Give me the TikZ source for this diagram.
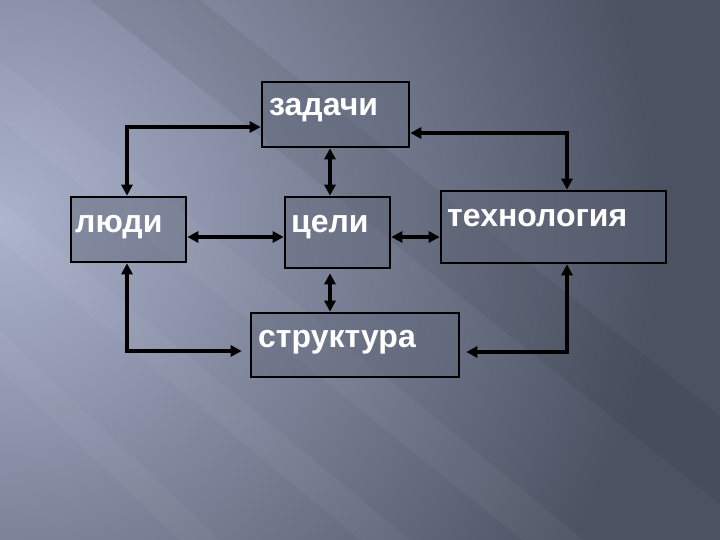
\documentclass[tikz,border=0pt]{standalone}
\usepackage{fontspec}
\setmainfont{Liberation Sans}
\usetikzlibrary{arrows.meta}
\definecolor{bgdark}{HTML}{4B5262}
\definecolor{bglight}{HTML}{ABB2CC}
\definecolor{boxfill}{HTML}{5E6577}
\tikzset{
  box/.style={draw=black, line width=2.6pt, fill=boxfill, fill opacity=0.45, inner sep=0pt, rectangle},
  lbl/.style={text=white, font=\fontsize{32}{35}\selectfont\bfseries, inner sep=0pt},
  conn/.style={draw=black, line width=3.6pt,
    {Triangle[length=11pt,width=11pt]}-{Triangle[length=11pt,width=11pt]}},
}
\begin{document}
\begin{tikzpicture}[x=1pt,y=-1pt]
% background
\useasboundingbox (0,0) rectangle (720,540);
\fill[bgdark] (0,0) rectangle (720,540);
\begin{scope}
\clip (0,0) rectangle (720,540);
\shade[inner color=bglight, outer color=bgdark] (0,220) circle (660);
\fill[black, opacity=0.06] (90,0) -- (200,0) -- (900,560) -- (790,560) -- cycle;
\fill[white, opacity=0.04] (0,60) -- (0,120) -- (560,570) -- (620,570) -- cycle;
\fill[white, opacity=0.04] (0,200) -- (0,240) -- (360,540) -- (410,540) -- cycle;
\fill[white, opacity=0.035] (0,330) -- (0,370) -- (180,540) -- (220,540) -- cycle;
\end{scope}
% boxes
\node[box, minimum width=147pt, minimum height=65pt] (zad) at (335.5,114.5) {};
\node[box, minimum width=115pt, minimum height=65pt] (ludi) at (128.5,229.5) {};
\node[box, minimum width=105pt, minimum height=71pt] (celi) at (337.5,232.5) {};
\node[box, minimum width=225pt, minimum height=72pt] (tech) at (553.5,227) {};
\node[box, minimum width=208pt, minimum height=64pt] (str) at (355,345) {};
% labels
\node[lbl, anchor=base west] (tzad) at (269,116) {задачи};
\node[lbl, anchor=base west] (tludi) at (75,233) {люди};
\node[lbl, anchor=base west] (tceli) at (291,233) {цели};
\node[lbl, anchor=base west] (ttech) at (447,226) {технология};
\node[lbl, anchor=base west] (tstr) at (258,347) {структура};
% helper coordinates
\coordinate (cl) at (127,127);
\coordinate (cr) at (567,133);
\coordinate (cc) at (330,237);
\coordinate (bl) at (127,351);
\coordinate (br) at (567,352);
% connectors
\draw[conn] (ludi.north -| cl) |- (zad.west |- cl);
\draw[conn] (zad.east |- cr) -| (tech.north -| cr);
\draw[conn] (zad.south -| cc) -- (celi.north -| cc);
\draw[conn] (ludi.east |- cc) -- (celi.west |- cc);
\draw[conn] (celi.east |- cc) -- (tech.west |- cc);
\draw[conn] ([yshift=-4pt]celi.south -| cc) -- (str.north -| cc);
\draw[conn] (ludi.south -| bl) |- ([xshift=-8pt]str.west |- bl);
\draw[conn] (tech.south -| br) |- ([xshift=6pt]str.east |- br);
\end{tikzpicture}
\end{document}
